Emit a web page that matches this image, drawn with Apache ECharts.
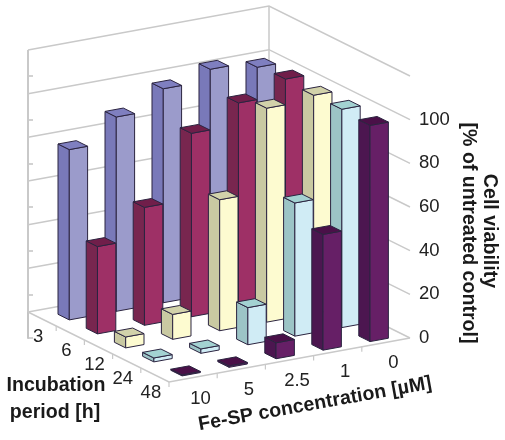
<!DOCTYPE html>
<html>
<head>
<meta charset="utf-8">
<style>html,body{margin:0;padding:0;background:#fff}#c{width:505px;height:440px}</style>
<script src="https://cdn.jsdelivr.net/npm/echarts@6/dist/echarts.min.js"></script>
</head>
<body>
<div id="c"></div>
<script>
var concentrations = ['10', '5', '2.5', '1', '0'];
var periods = ['3', '6', '12', '24', '48'];
var valueTicks = [0, 20, 40, 60, 80, 100, 120];
var viability3h = [78, 89, 98, 103, 100];
var viability6h = [40, 54, 84, 94, 101];
var viability12h = [5, 11.4, 60, 98, 100];
var viability24h = [1.8, 2, 17, 61, 100];
var viability48h = [0.5, 0.7, 7.3, 53, 99];
var rows = [viability3h, viability6h, viability12h, viability24h, viability48h];

var palette = [
  {front: '#9b9bcb', side: '#7979b9', top: '#7f7fc0'},
  {front: '#9e3066', side: '#78264f', top: '#701e4a'},
  {front: '#fdfbd0', side: '#c9c9a2', top: '#d2d2aa'},
  {front: '#d0ecf5', side: '#9cc4c6', top: '#a3d2d2'},
  {front: '#661f66', side: '#4c1650', top: '#4a1048'}
];

// oblique floor projection: a runs along concentration, b along incubation period
var unitA = [48.2, -8.8], unitB = [28.2, 14], floorShift = -26;
function project(api, a, b, v) {
  var p = api.coord([a * unitA[0] + b * unitB[0], v]);
  return [p[0], p[1] + floorShift + a * unitA[1] + b * unitB[1]];
}

var barData = [];
for (var ci = concentrations.length - 1; ci >= 0; ci--) {
  for (var pj = 0; pj < periods.length; pj++) {
    barData.push([ci, pj, rows[pj][ci]]);
  }
}

var gridColor = '#c9c9c9';
function line(pts, w, color) {
  return {type: 'polyline', shape: {points: pts}, style: {stroke: color || gridColor, lineWidth: w || 1.5, fill: null}, silent: true};
}

function renderWall(params, api) {
  var t = api.value(0), kids = [];
  kids.push(line([project(api, 0, 0, t), project(api, 5, 0, t), project(api, 5, 5, t)]));
  return {type: 'group', children: kids};
}

function renderFrame(params, api) {
  var kids = [];
  kids.push(line([project(api, 0, 0, 0), project(api, 0, 0, 120)], 2));
  kids.push(line([project(api, 5, 0, 0), project(api, 5, 0, 120)], 1.5));
  kids.push(line([project(api, 0, 0, 0), project(api, 0, 5, 0), project(api, 5, 5, 0)], 1.5));
  for (var k = 1; k <= 5; k++) {
    var p = project(api, k, 5, 0);
    if (k < 5) kids.push(line([p, [p[0], p[1] + 5]], 1.2));
    var q = project(api, 0, k, 0);
    kids.push(line([q, [q[0], q[1] + 5]], 1.2));
  }
  return {type: 'group', children: kids};
}

var barPitch = 0.975, barA0 = 0.385, barB0 = 0.406, barW = 0.38, barD = 0.4;
function renderBar(params, api) {
  var ci = api.value(0), pj = api.value(1), v = api.value(2);
  var a = barA0 + ci * barPitch, b = barB0 + pj;
  var c = palette[pj], edge = '#2b2440';
  function P(da, db, h) { return project(api, a + da, b + db, h); }
  var st = function (f) { return {fill: f, stroke: edge, lineWidth: 1, lineJoin: 'round'}; };
  return {type: 'group', children: [
    {type: 'polygon', shape: {points: [P(0, 0, 0), P(0, barD, 0), P(0, barD, v), P(0, 0, v)]}, style: st(c.side)},
    {type: 'polygon', shape: {points: [P(0, barD, 0), P(barW, barD, 0), P(barW, barD, v), P(0, barD, v)]}, style: st(c.front)},
    {type: 'polygon', shape: {points: [P(0, 0, v), P(0, barD, v), P(barW, barD, v), P(barW, 0, v)]}, style: st(c.top)}
  ]};
}

var labelFont = '18.5px "Liberation Sans", Arial, sans-serif';
function renderConcLabel(params, api) {
  var i = api.value(0), p = project(api, i + 0.5, 5, 0);
  return {type: 'text', x: p[0] + 7.5, y: p[1] + 21, style: {text: concentrations[i], font: labelFont, fill: '#222', textAlign: 'center', textVerticalAlign: 'middle'}};
}
function renderPeriodLabel(params, api) {
  var j = api.value(0), p = project(api, 0, j + 0.5, 0);
  return {type: 'text', x: p[0] - 4, y: p[1] + 18, style: {text: periods[j], font: labelFont, fill: '#222', textAlign: 'center', textVerticalAlign: 'middle'}};
}

function idx(arr) { return arr.map(function (_, i) { return [i]; }); }
function custom(renderItem, data, z) {
  return {type: 'custom', renderItem: renderItem, data: data, clip: false, silent: true, animation: false, z: z,
          encode: {x: [], y: []}};
}

var titleFont = 'bold 19.6px "Liberation Sans", Arial, sans-serif';
function title(text, x, y, rot) {
  return {type: 'text', x: x, y: y, rotation: rot, silent: true,
          style: {text: text, font: titleFont, fill: '#1a1a1a', textAlign: 'center', textVerticalAlign: 'middle'}};
}

var chart = echarts.init(document.getElementById('c'), null, {renderer: 'canvas'});
chart.setOption({
  animation: false,
  backgroundColor: '#fff',
  grid: {left: 28, top: 76, width: 382, height: 262, containLabel: false},
  xAxis: {type: 'value', min: 0, max: 382, show: false},
  yAxis: {
    type: 'value', position: 'right', min: 0, max: 120, interval: 20,
    axisLine: {show: true, lineStyle: {color: '#c4c4c4', width: 2}},
    axisTick: {show: true, length: 5, lineStyle: {color: '#c4c4c4', width: 1.5}},
    splitLine: {show: false},
    axisLabel: {
      margin: 9, fontSize: 18.5, color: '#222', fontFamily: '"Liberation Sans", Arial, sans-serif', padding: [5, 0, 0, 0],
      formatter: function (v) { return v === 120 ? '' : String(v); }
    }
  },
  series: [
    custom(renderWall, valueTicks.map(function (t) { return [t]; }), 1),
    custom(renderFrame, [[0]], 2),
    custom(renderBar, barData, 3),
    custom(renderConcLabel, idx(concentrations), 4),
    custom(renderPeriodLabel, idx(periods), 4)
  ],
  graphic: [
    title('Incubation', 56, 386, 0),
    title('period [h]', 55, 413, 0),
    title('Fe-SP concentration [\u00b5M]', 315, 404, 0.178),
    title('Cell viability', 489, 231, -Math.PI / 2),
    title('[% of untreated control]', 468, 233, -Math.PI / 2)
  ]
});
</script>
</body>
</html>
